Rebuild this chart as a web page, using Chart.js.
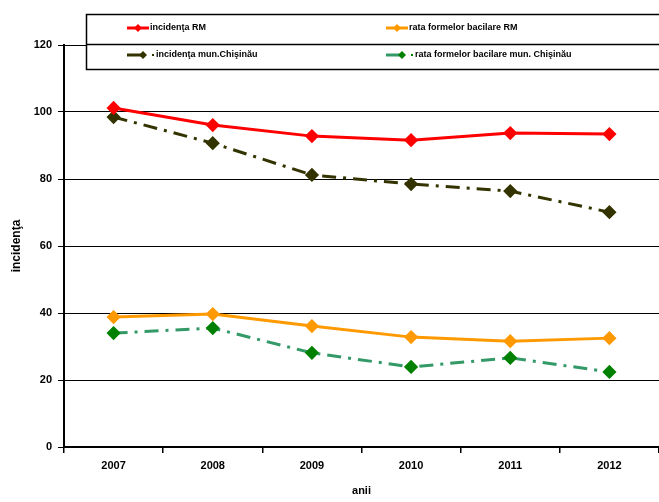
<!DOCTYPE html>
<html>
<head>
<meta charset="utf-8">
<script src="https://cdn.jsdelivr.net/npm/chart.js@4"></script>
<style>
  html, body { margin: 0; padding: 0; background: #fff; overflow: hidden; }
  #wrap { width: 659px; height: 502px; position: relative; }
</style>
</head>
<body>
<div id="wrap"><canvas id="c"></canvas></div>
<script>
// --- date ---------------------------------------------------------
const ani = ['2007', '2008', '2009', '2010', '2011', '2012'];
const incidentaRM = [101.2, 96.1, 92.8, 91.6, 93.7, 93.4];
const bacilareRM = [38.8, 39.7, 36.1, 32.8, 31.6, 32.5];
const incidentaChisinau = [98.5, 90.7, 81.2, 78.5, 76.4, 70.1];
const bacilareChisinau = [34.0, 35.5, 28.1, 23.9, 26.6, 22.4];
const yTicks = [0, 20, 40, 60, 80, 100, 120];

const FONT = { family: 'Liberation Sans, Arial, sans-serif', weight: 'bold' };

// legenda desenata manual (cutie cu doua randuri)
const legendBox = {
  id: 'legendBox',
  afterDraw(chart) {
    const ctx = chart.ctx;
    ctx.save();
    ctx.fillStyle = '#fff';
    ctx.fillRect(86, 14, 580, 55);
    ctx.strokeStyle = '#000';
    ctx.lineWidth = 1.5;
    ctx.strokeRect(86.5, 14.5, 590, 55);
    ctx.beginPath();
    ctx.moveTo(86, 44.5); ctx.lineTo(660, 44.5);
    ctx.stroke();

    const pos = [[127, 28], [386, 28], [127, 55], [386, 55]];
    chart.data.datasets.forEach((ds, di) => {
      const [x, y] = pos[di];
      ctx.strokeStyle = ds.borderColor;
      ctx.lineWidth = 3;
      ctx.setLineDash([]);
      ctx.beginPath();
      ctx.moveTo(x, y); ctx.lineTo(di >= 2 ? x + 18 : x + 22, y);
      ctx.stroke();
      ctx.fillStyle = ds.pointBackgroundColor;
      const mx = di >= 2 ? x + 16 : x + 11;
      ctx.beginPath();
      ctx.moveTo(mx, y - 4); ctx.lineTo(mx + 4, y);
      ctx.lineTo(mx, y + 4); ctx.lineTo(mx - 4, y);
      ctx.closePath(); ctx.fill();
      let tx = x + 23;
      if (di >= 2) {
        ctx.fillStyle = ds.pointBackgroundColor;
        ctx.fillRect(x + 25, y - 1, 2, 2);
        tx = x + 29;
      }
      ctx.fillStyle = '#000';
      ctx.font = 'bold 9px Liberation Sans, Arial, sans-serif';
      ctx.textBaseline = 'middle';
      ctx.fillText(ds.label, tx, y);
    });
    ctx.restore();
  }
};

const serie = (label, data, line, point, dash) => ({
  label,
  data,
  borderColor: line,
  backgroundColor: point,
  pointBackgroundColor: point,
  pointBorderColor: point,
  borderWidth: 3,
  borderDash: dash,
  pointStyle: 'rectRot',
  pointRadius: 5,
  pointHoverRadius: 5,
  tension: 0,
  fill: false,
});

new Chart(document.getElementById('c').getContext('2d'), {
  type: 'line',
  data: {
    labels: ani,
    datasets: [
      serie('incidenţa RM', incidentaRM, '#ff0000', '#ff0000', []),
      serie('rata formelor bacilare RM', bacilareRM, '#ff9900', '#ff9900', []),
      serie('incidenţa mun.Chişinău', incidentaChisinau, '#333300', '#333300', [14, 7, 3, 7]),
      serie('rata formelor bacilare mun. Chişinău', bacilareChisinau, '#339966', '#008000', [14, 7, 3, 7]),
    ]
  },
  options: {
    responsive: true,
    maintainAspectRatio: false,
    animation: false,
    layout: { autoPadding: false, padding: { top: 45, right: 0, left: 0, bottom: 0 } },
    plugins: {
      legend: { display: false },
      tooltip: { enabled: false },
    },
    scales: {
      x: {
        offset: true,
        grid: { drawOnChartArea: false, drawTicks: true, tickLength: 6, color: '#000', lineWidth: 1.5, offset: true },
        border: { color: '#000', width: 2 },
        ticks: { color: '#000', font: { ...FONT, size: 11 }, padding: 6 },
        title: { display: true, text: 'anii', color: '#000', font: { ...FONT, size: 11 }, padding: { top: 26 } },
        afterFit: s => { s.height = 55; s.paddingLeft = 0; s.paddingRight = 0; },
      },
      y: {
        min: 0, max: 120,
        afterBuildTicks: s => { s.ticks = yTicks.map(v => ({ value: v })); },
        grid: { color: '#000', lineWidth: 1, tickLength: 6 },
        border: { color: '#000', width: 2 },
        ticks: { color: '#000', font: { ...FONT, size: 11 }, padding: 6 },
        title: { display: true, text: 'incidenţa', color: '#000', font: { ...FONT, size: 12 }, padding: { top: 9, bottom: 0 } },
        afterFit: s => { s.width = 64; s.paddingTop = 0; s.paddingBottom = 0; },
      }
    }
  },
  plugins: [legendBox]
});
</script>
</body>
</html>
